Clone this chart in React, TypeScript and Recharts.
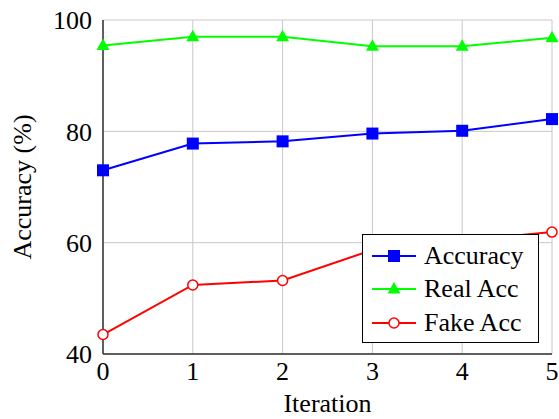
import { CartesianGrid, Legend, Line, LineChart, XAxis, YAxis } from 'recharts';

// values
const iterations = [0, 1, 2, 3, 4, 5];
const accuracy = [73.0, 77.8, 78.2, 79.6, 80.1, 82.2];
const realAcc = [95.4, 97.0, 97.0, 95.3, 95.3, 96.8];
const fakeAcc = [43.5, 52.4, 53.2, 58.7, 60.4, 61.9];
const yTicks = [40, 60, 80, 100];

const data = iterations.map((it, i) => ({
    iteration: it,
    accuracy: accuracy[i],
    realAcc: realAcc[i],
    fakeAcc: fakeAcc[i],
}));

const FONT = '"Liberation Serif", "Times New Roman", serif';
const FS = 26;
const BLUE = '#0000ff';
const GREEN = '#00ff00';
const RED = '#ff0000';

const squareDot = (props: any) => {
    const { cx, cy, index } = props;
    return <rect key={`sq-${index}`} x={cx - 6} y={cy - 6} width={12} height={12} fill={BLUE} />;
};

const triangleDot = (props: any) => {
    const { cx, cy, index } = props;
    return (
        <polygon
            key={`tri-${index}`}
            points={`${cx},${cy - 7} ${cx + 6.5},${cy + 4.5} ${cx - 6.5},${cy + 4.5}`}
            fill={GREEN}
        />
    );
};

const series = [
    { key: 'accuracy', name: 'Accuracy', color: BLUE, marker: 'square' },
    { key: 'realAcc', name: 'Real Acc', color: GREEN, marker: 'triangle' },
    { key: 'fakeAcc', name: 'Fake Acc', color: RED, marker: 'circle' },
];

function LegendBox() {
    return (
        <div
            style={{
                width: 177,
                height: 109,
                boxSizing: 'border-box',
                border: '1px solid #000',
                background: '#fff',
                fontFamily: FONT,
                fontSize: FS,
                paddingTop: 4,
            }}
        >
            {series.map((s) => (
                <div key={s.key} style={{ display: 'flex', alignItems: 'center', height: 33.5 }}>
                    <svg width={56} height={20} style={{ marginLeft: 8, flexShrink: 0 }}>
                        <line x1={1} y1={10} x2={45} y2={10} stroke={s.color} strokeWidth={2} />
                        {s.marker === 'square' && <rect x={17} y={4} width={12} height={12} fill={s.color} />}
                        {s.marker === 'triangle' && <polygon points="23,3 29.5,14.5 16.5,14.5" fill={s.color} />}
                        {s.marker === 'circle' && (
                            <circle cx={23} cy={10} r={5} fill="#fff" stroke={s.color} strokeWidth={1.5} />
                        )}
                    </svg>
                    <span style={{ marginLeft: -3, color: '#000', whiteSpace: 'nowrap' }}>{s.name}</span>
                </div>
            ))}
        </div>
    );
}

export default function App() {
    return (
        <div style={{ position: 'fixed', left: 0, top: 0, width: 559, height: 419, background: '#fff' }}>
            <LineChart width={559} height={419} data={data} margin={{ top: 20, right: 7, bottom: 0, left: 0 }}>
                <CartesianGrid stroke="#c8c8c8" strokeWidth={1} />
                <XAxis
                    dataKey="iteration"
                    type="number"
                    domain={[0, 5]}
                    ticks={iterations}
                    height={65}
                    tickLine={false}
                    tickSize={0}
                    tickMargin={8}
                    axisLine={{ stroke: '#333', strokeWidth: 1.5 }}
                    tick={{ fill: '#000', fontSize: FS, fontFamily: FONT }}
                    label={{
                        value: 'Iteration',
                        position: 'insideBottom',
                        offset: 7,
                        style: { fill: '#000', fontSize: FS, fontFamily: FONT },
                    }}
                />
                <XAxis xAxisId="top" dataKey="iteration" type="number" domain={[0, 5]} orientation="top" height={0} tick={false} tickLine={false} axisLine={{ stroke: '#333', strokeWidth: 1.5 }} />
                <YAxis
                    domain={[40, 100]}
                    ticks={yTicks}
                    width={103}
                    tickLine={false}
                    tickSize={0}
                    tickMargin={11}
                    axisLine={{ stroke: '#333', strokeWidth: 1.5 }}
                    tick={{ fill: '#000', fontSize: FS, fontFamily: FONT }}
                    label={{
                        value: 'Accuracy (%)',
                        angle: -90,
                        position: 'insideLeft',
                        offset: 22,
                        style: { fill: '#000', fontSize: FS, fontFamily: FONT, textAnchor: 'middle' },
                    }}
                />
                <YAxis yAxisId="right" orientation="right" domain={[40, 100]} width={0} tick={false} tickLine={false} axisLine={{ stroke: '#333', strokeWidth: 1.5 }} />
                <Line
                    dataKey="accuracy"
                    name="Accuracy"
                    stroke={BLUE}
                    strokeWidth={2}
                    dot={squareDot}
                    isAnimationActive={false}
                />
                <Line
                    dataKey="realAcc"
                    name="Real Acc"
                    stroke={GREEN}
                    strokeWidth={2}
                    dot={triangleDot}
                    isAnimationActive={false}
                />
                <Line
                    dataKey="fakeAcc"
                    name="Fake Acc"
                    stroke={RED}
                    strokeWidth={2}
                    dot={{ r: 5, fill: '#fff', stroke: RED, strokeWidth: 1.5 }}
                    isAnimationActive={false}
                />
                <Legend
                    layout="horizontal"
                    verticalAlign="middle"
                    align="center"
                    content={() => <LegendBox />}
                    wrapperStyle={{ left: 362, top: 234, width: 177, height: 109 }}
                />
            </LineChart>
        </div>
    );
}
